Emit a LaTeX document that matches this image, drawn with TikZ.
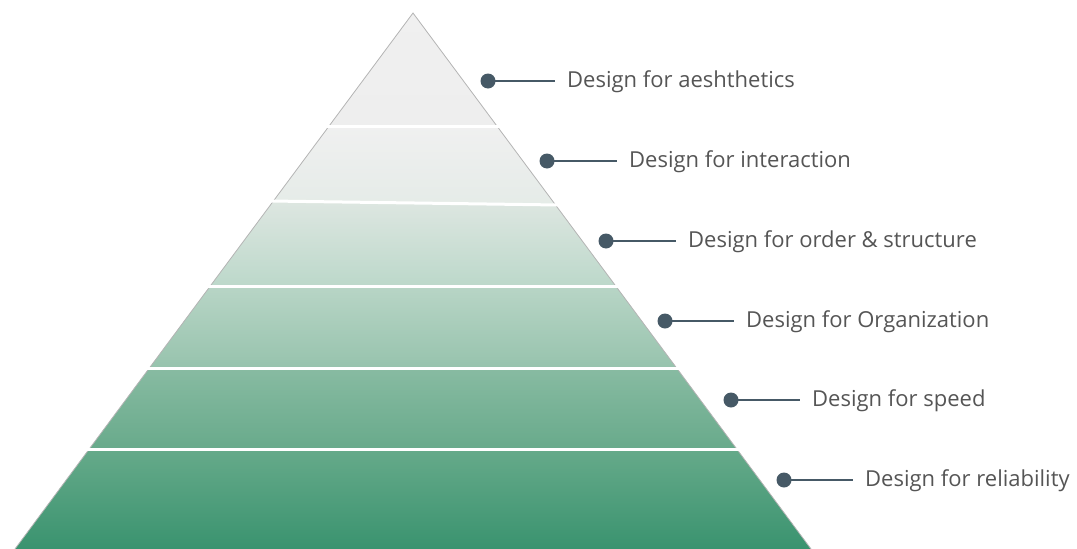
\documentclass[tikz,border=0pt]{standalone}
\usepackage{fontspec}
\setmainfont{Open Sans}
\definecolor{dotc}{HTML}{465966}
\definecolor{txtc}{HTML}{555555}
\definecolor{edgec}{HTML}{B4B4B4}
\begin{document}
\begin{tikzpicture}[x=1pt,y=-1pt,
  bullet/.style={circle,fill=dotc,inner sep=0pt,minimum size=15pt},
  lbl/.style={anchor=base west,inner xsep=12pt,inner ysep=0pt,text=txtc,
    font=\fontsize{22}{26}\selectfont},
  leader/.style={draw=dotc,line width=2pt},
  sep/.style={draw=white,line width=3pt},
  band/.style={draw=none}]
\useasboundingbox (0,0) rectangle (1077,549);

% pyramid body, one shaded band per level
\begin{scope}
  \clip (413,13) -- (811,549) -- (15,549) -- cycle;
  \path[band,top color={rgb,255:red,240;green,240;blue,240},bottom color={rgb,255:red,238;green,238;blue,238}]
    (0,0) rectangle (1077,126);
  \path[band,top color={rgb,255:red,240;green,240;blue,240},bottom color={rgb,255:red,228;green,235;blue,231}]
    (0,126) -- (1077,126) -- (1077,212) -- (0,197) -- cycle;
  \path[band,top color={rgb,255:red,223;green,231;blue,226},bottom color={rgb,255:red,188;green,216;blue,202}]
    (0,197) -- (1077,212) -- (1077,286) -- (0,286) -- cycle;
  \path[band,top color={rgb,255:red,184;green,213;blue,198},bottom color={rgb,255:red,151;green,195;blue,173}]
    (0,286) rectangle (1077,368);
  \path[band,top color={rgb,255:red,136;green,187;blue,162},bottom color={rgb,255:red,104;green,170;blue,139}]
    (0,368) rectangle (1077,449);
  \path[band,top color={rgb,255:red,102;green,170;blue,138},bottom color={rgb,255:red,58;green,147;blue,111}]
    (0,449) rectangle (1077,549);
\end{scope}
\draw[edgec,line width=0.8pt,line join=miter] (15,549) -- (413,13) -- (811,549);

% white separators between the levels
\draw[sep] (326,126) -- (500,126);
\draw[sep] (270,201) -- (559,205);
\draw[sep] (207,286) -- (619,286);
\draw[sep] (146,368) -- (680,368);
\draw[sep] (86,449) -- (740,449);

% markers and their labels
\node[bullet] (d1) at (488,81) {};
\node[bullet] (d2) at (547,161) {};
\node[bullet] (d3) at (606,241) {};
\node[bullet] (d4) at (665,321) {};
\node[bullet] (d5) at (731,400) {};
\node[bullet] (d6) at (784,480) {};

\node[lbl] (l1) at (555,87) {Design for aeshthetics};
\node[lbl] (l2) at (617,167) {Design for interaction};
\node[lbl] (l3) at (676,247) {Design for order \& structure};
\node[lbl] (l4) at (734,327) {Design for Organization};
\node[lbl] (l5) at (800,406) {Design for speed};
\node[lbl] (l6) at (853,486) {Design for reliability};

\foreach \i in {1,...,6}
  \draw[leader] (d\i.center) -- (d\i -| l\i.west);
\end{tikzpicture}
\end{document}
